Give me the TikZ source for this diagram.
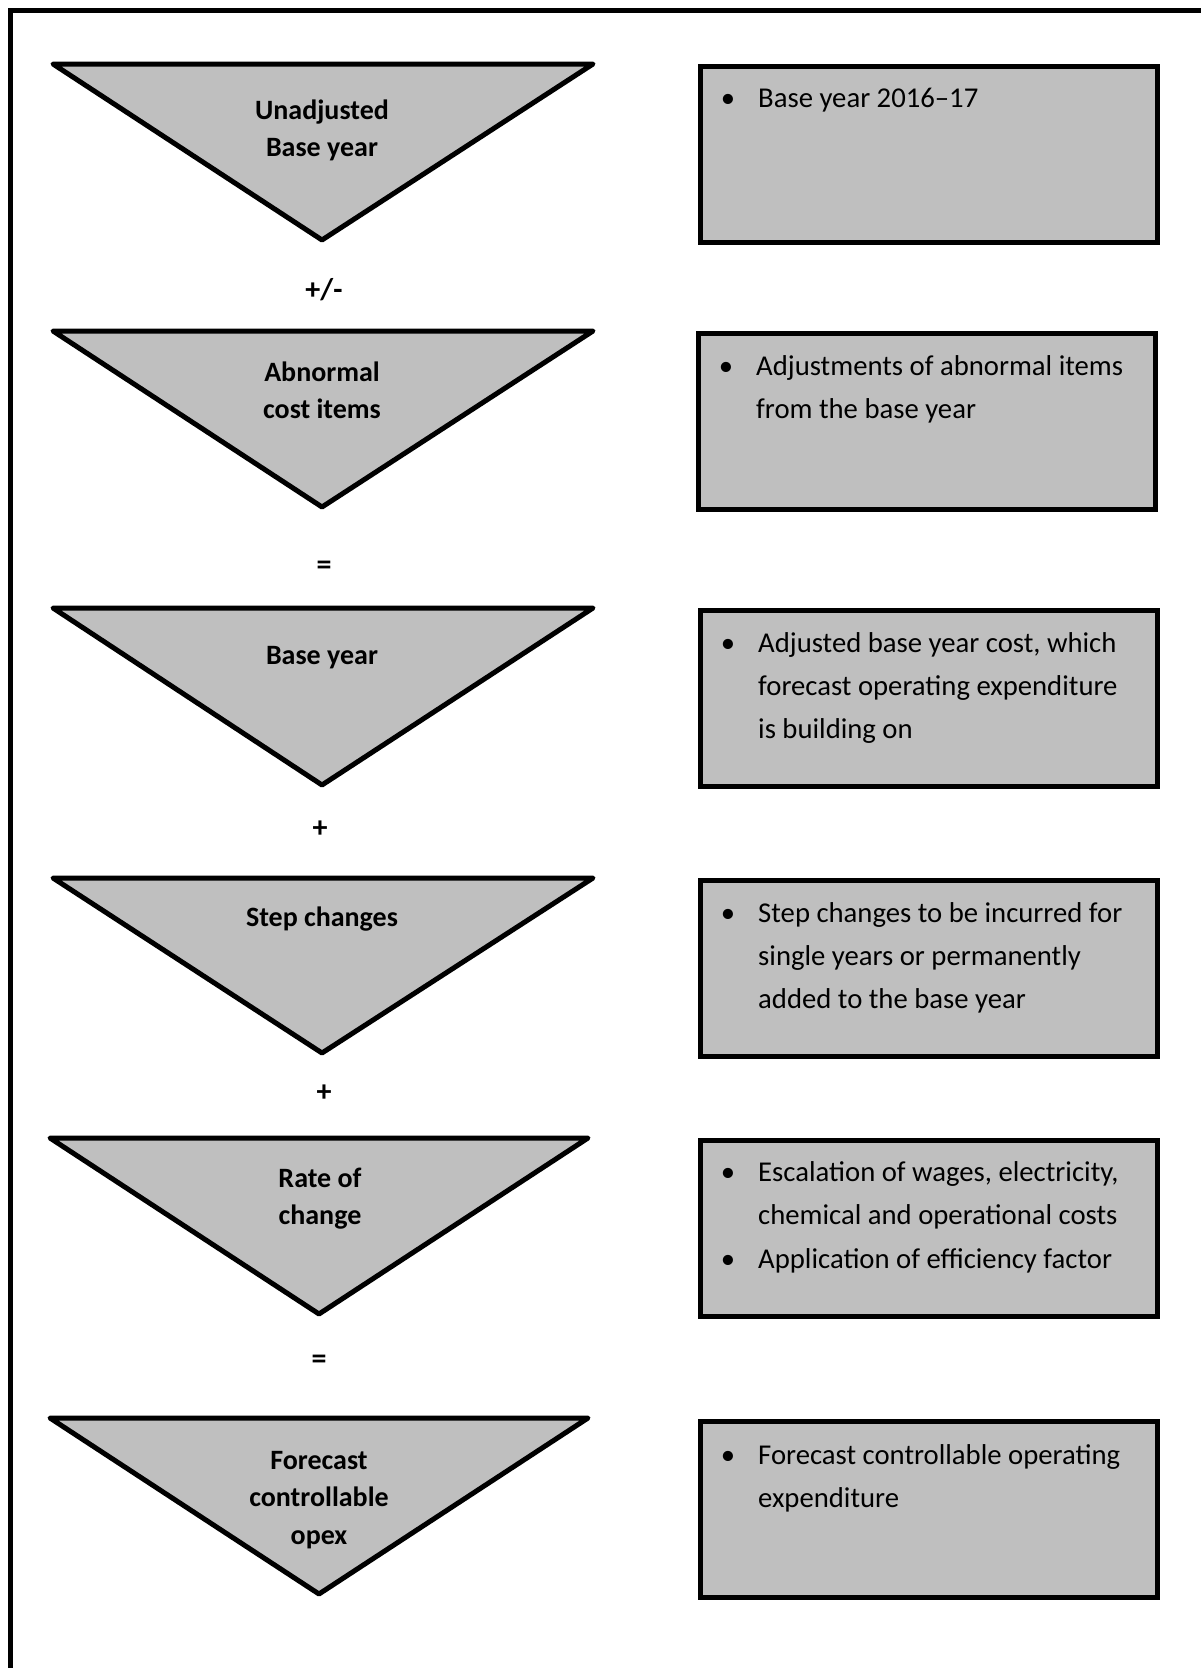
\documentclass[tikz,border=0pt]{standalone}
\usepackage{fontspec}
\setmainfont{Carlito}
\definecolor{boxgray}{RGB}{191,191,191}
\begin{document}
\begin{tikzpicture}[x=1pt,y=-1pt,
  tri/.style={draw, line width=5pt, fill=boxgray, line join=round},
  box/.style={draw, line width=5pt, fill=boxgray, anchor=north west, inner sep=0pt, minimum width=457pt, minimum height=176pt},
  ttext/.style={font=\fontsize{28}{37}\selectfont\bfseries, anchor=base, inner sep=0pt},
  btext/.style={font=\fontsize{28.7}{43}\selectfont, anchor=base west, inner sep=0pt},
  bul/.style={font=\fontsize{28.7}{43}\selectfont, anchor=base, inner sep=0pt},
  op/.style={font=\fontsize{30}{34}\selectfont\bfseries, inner sep=0pt}]
\useasboundingbox (0,0) rectangle (1200,1668);
\fill[white] (0,0) rectangle (1200,1668);
% frame
\draw[line width=5pt] (10.5,1680) -- (10.5,10.5) -- (1210,10.5);

% triangles
\draw[tri] (53,64) -- (593,64) -- (322,240) -- cycle;
\draw[tri] (53,331) -- (593,331) -- (322,507) -- cycle;
\draw[tri] (53,608) -- (593,608) -- (322,785) -- cycle;
\draw[tri] (53,878) -- (593,878) -- (322,1053) -- cycle;
\draw[tri] (50,1138) -- (588,1138) -- (319,1314) -- cycle;
\draw[tri] (50,1418) -- (588,1418) -- (319,1594) -- cycle;

\node[ttext] (t1a) at (322,119) {Unadjusted};
\node[ttext] (t1b) at (322,156) {Base year};
\node[ttext] (t2a) at (322,381) {Abnormal};
\node[ttext] (t2b) at (322,418) {cost items};
\node[ttext] (t3a) at (322,664) {Base year};
\node[ttext] (t4a) at (322,926) {Step changes};
\node[ttext] (t5a) at (320,1187) {Rate of};
\node[ttext] (t5b) at (320,1224) {change};
\node[ttext] (t6a) at (319,1469) {Forecast};
\node[ttext] (t6b) at (319,1506) {controllable};
\node[ttext] (t6c) at (319,1544) {opex};

% operators
\node[op] (o1) at (324,290) {+/-};
\node[op] (o2) at (324,568) {=};
\node[op] (o3) at (320,829) {+};
\node[op] (o4) at (324,1093) {+};
\node[op] (o5) at (319,1362) {=};

% boxes
\node[box] (b1) at (698,64) {};
\node[box] (b2) at (696,331) {};
\node[box] (b3) at (698,608) {};
\node[box] (b4) at (698,878) {};
\node[box] (b5) at (698,1138) {};
\node[box] (b6) at (698,1419) {};

\node[bul] (u1) at (728,107) {\textbullet};
\node[btext] (l1a) at (758,107) {Base year 2016–17};

\node[bul] (u2) at (726,375) {\textbullet};
\node[btext] (l2a) at (756,375) {Adjustments of abnormal items};
\node[btext] (l2b) at (756,418) {from the base year};

\node[bul] (u3) at (728,652) {\textbullet};
\node[btext] (l3a) at (758,652) {Adjusted base year cost, which};
\node[btext] (l3b) at (758,695) {forecast operating expenditure};
\node[btext] (l3c) at (758,738) {is building on};

\node[bul] (u4) at (728,922) {\textbullet};
\node[btext] (l4a) at (758,922) {Step changes to be incurred for};
\node[btext] (l4b) at (758,965) {single years or permanently};
\node[btext] (l4c) at (758,1008) {added to the base year};

\node[bul] (u5) at (728,1181) {\textbullet};
\node[btext] (l5a) at (758,1181) {Escalation of wages, electricity,};
\node[btext] (l5b) at (758,1224) {chemical and operational costs};
\node[bul] (u5b) at (728,1268) {\textbullet};
\node[btext] (l5c) at (758,1268) {Application of efficiency factor};

\node[bul] (u6) at (728,1464) {\textbullet};
\node[btext] (l6a) at (758,1464) {Forecast controllable operating};
\node[btext] (l6b) at (758,1507) {expenditure};
\end{tikzpicture}
\end{document}
